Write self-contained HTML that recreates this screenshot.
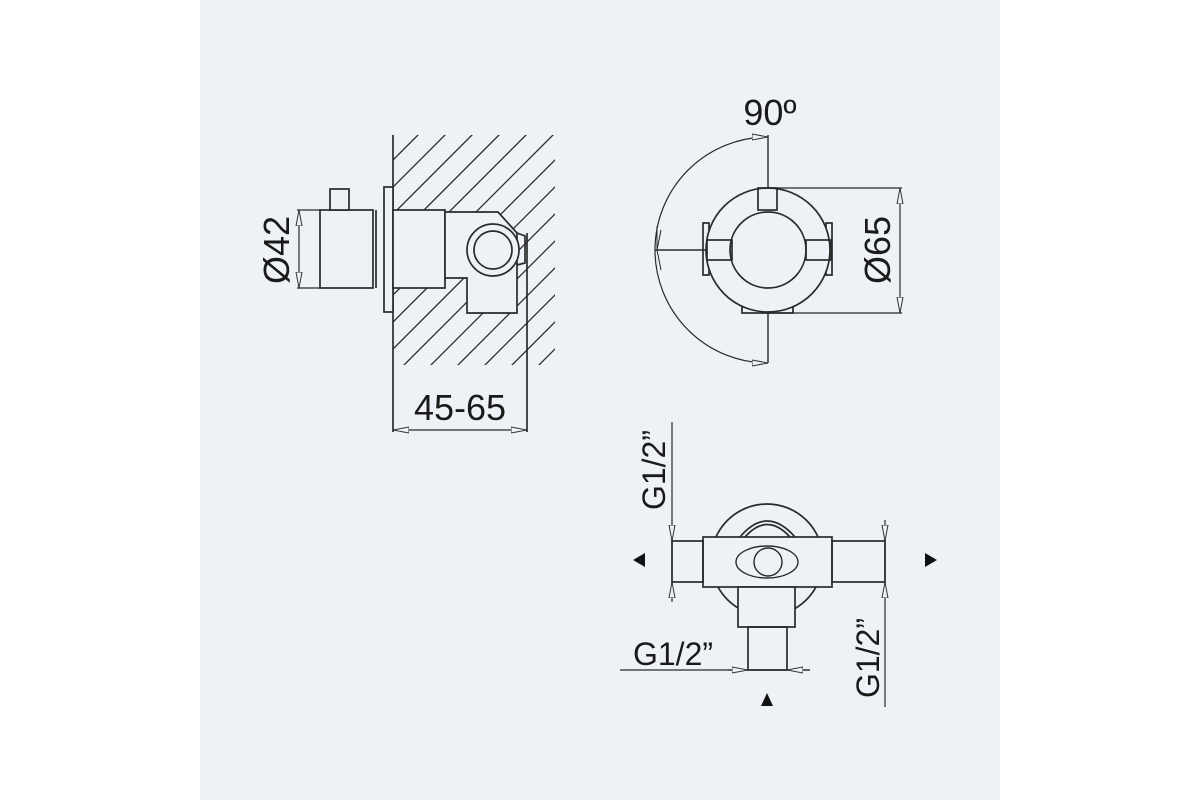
<!DOCTYPE html>
<html><head><meta charset="utf-8"><style>
html,body{margin:0;padding:0;background:#fff;}
svg{display:block;}
text{font-family:"Liberation Sans",sans-serif;fill:#1a1a1a;}
</style></head><body>
<svg width="1200" height="800" viewBox="0 0 1200 800" xmlns="http://www.w3.org/2000/svg">
<defs>
<clipPath id="hc"><rect x="393" y="135" width="162" height="230"/></clipPath>
<marker id="oa" viewBox="0 0 16 8" refX="16" refY="4" markerWidth="16" markerHeight="8" orient="auto-start-reverse" markerUnits="userSpaceOnUse">
<path d="M0,1 L16,4 L0,7 Z" fill="#eef2f6" stroke="#333" stroke-width="1"/></marker>
</defs>
<rect x="200" y="0" width="800" height="800" fill="#eef2f6"/>
<g stroke="#2a2a2a" stroke-width="1.7" fill="none">
<g clip-path="url(#hc)" stroke-width="1.3">
<path d="M393,160 l200,-200 M393,187 l200,-200 M393,214 l200,-200 M393,241 l200,-200 M393,268 l200,-200 M393,295 l200,-200 M393,322 l200,-200 M393,349 l200,-200 M393,376 l200,-200 M393,403 l200,-200 M393,430 l200,-200 M393,457 l200,-200 M393,484 l200,-200 M393,511 l200,-200 M393,538 l200,-200"/>
</g>
<line x1="393" y1="135" x2="393" y2="432"/>
<rect x="320" y="210" width="53" height="78" fill="#eef2f6"/>
<line x1="376" y1="210" x2="376" y2="288"/>
<rect x="330" y="189" width="19" height="21" fill="#eef2f6"/>
<rect x="384" y="187" width="9" height="125" fill="#eef2f6"/>
<rect x="393" y="210" width="52" height="78" fill="#eef2f6"/>
<path d="M445,212 L498,212 L517,233 L517,313 L467,313 L467,278 L445,278 Z" fill="#eef2f6"/>
<path d="M517,233 L525,236 L525,263 L517,265"/>
<circle cx="493" cy="250" r="26" fill="#eef2f6"/>
<circle cx="493" cy="250" r="19"/>
<line x1="527" y1="233" x2="527" y2="432"/>
<line x1="297" y1="210" x2="320" y2="210" stroke-width="1.2"/>
<line x1="297" y1="288" x2="320" y2="288" stroke-width="1.2"/>
<line x1="299" y1="210" x2="299" y2="288" stroke-width="1.2" marker-start="url(#oa)" marker-end="url(#oa)"/>
<line x1="393" y1="430" x2="527" y2="430" stroke-width="1.2" marker-start="url(#oa)" marker-end="url(#oa)"/>
<path d="M768,137 A113,113 0 0 0 655,250 A113,113 0 0 0 768,363" stroke-width="1.2" marker-start="url(#oa)" marker-end="url(#oa)"/>
<path d="M657,226 l0,24 M661,230 l-4,20 l4,20" stroke-width="1"/>
<line x1="768" y1="135" x2="768" y2="188" stroke-width="1.4"/>
<line x1="768" y1="313" x2="768" y2="363" stroke-width="1.4"/>
<line x1="655" y1="250" x2="708" y2="250" stroke-width="1.4"/>
<rect x="703" y="223" width="6" height="52"/>
<rect x="826" y="223" width="6" height="52"/>
<rect x="742" y="307" width="51" height="6"/>
<circle cx="768" cy="250" r="62" fill="#eef2f6"/>
<rect x="758" y="188" width="19" height="22"/>
<rect x="707" y="240" width="25" height="20"/>
<rect x="806" y="240" width="25" height="20"/>
<circle cx="768" cy="250" r="38"/>
<line x1="768" y1="188" x2="902" y2="188" stroke-width="1.2"/>
<line x1="768" y1="313" x2="902" y2="313" stroke-width="1.2"/>
<line x1="900" y1="188" x2="900" y2="313" stroke-width="1.2" marker-start="url(#oa)" marker-end="url(#oa)"/>
<circle cx="767" cy="560" r="56"/>
<path d="M740,537 Q767,505 795,537 M745,537 Q767,512 790,537"/>
<rect x="703" y="537" width="129" height="50" fill="#eef2f6"/>
<rect x="672" y="541" width="31" height="41"/>
<rect x="832" y="541" width="53" height="41"/>
<rect x="738" y="587" width="57" height="40" fill="#eef2f6"/>
<rect x="748" y="627" width="39" height="43"/>
<ellipse cx="767" cy="562" rx="31" ry="16" stroke-width="1.4"/>
<circle cx="768" cy="562" r="14" stroke-width="1.4"/>
<line x1="672" y1="422" x2="672" y2="602" stroke-width="1.2"/>
<line x1="672" y1="525" x2="672" y2="541" stroke-width="1.2" marker-end="url(#oa)"/>
<line x1="672" y1="598" x2="672" y2="582" stroke-width="1.2" marker-end="url(#oa)"/>
<line x1="885" y1="520" x2="885" y2="707" stroke-width="1.2"/>
<line x1="885" y1="525" x2="885" y2="541" stroke-width="1.2" marker-end="url(#oa)"/>
<line x1="885" y1="598" x2="885" y2="582" stroke-width="1.2" marker-end="url(#oa)"/>
<line x1="620" y1="670" x2="810" y2="670" stroke-width="1.2"/>
<line x1="728" y1="670" x2="748" y2="670" stroke-width="1.2" marker-end="url(#oa)"/>
<line x1="810" y1="670" x2="787" y2="670" stroke-width="1.2" marker-end="url(#oa)"/>
</g>
<g fill="#111">
<path d="M633,560 L645,553 L645,567 Z"/>
<path d="M937,560 L925,553 L925,567 Z"/>
<path d="M767,693 L761,706 L773,706 Z"/>
</g>
<text x="460" y="420" font-size="36" text-anchor="middle">45-65</text>
<text transform="translate(289,250) rotate(-90)" font-size="36" text-anchor="middle">Ø42</text>
<text x="770" y="125" font-size="36" text-anchor="middle">90º</text>
<text transform="translate(890,250) rotate(-90)" font-size="36" text-anchor="middle">Ø65</text>
<text transform="translate(665,470) rotate(-90)" font-size="32" text-anchor="middle">G1/2”</text>
<text transform="translate(879,658) rotate(-90)" font-size="32" text-anchor="middle">G1/2”</text>
<text x="673" y="665" font-size="32" text-anchor="middle">G1/2”</text>
</svg>
</body></html>
